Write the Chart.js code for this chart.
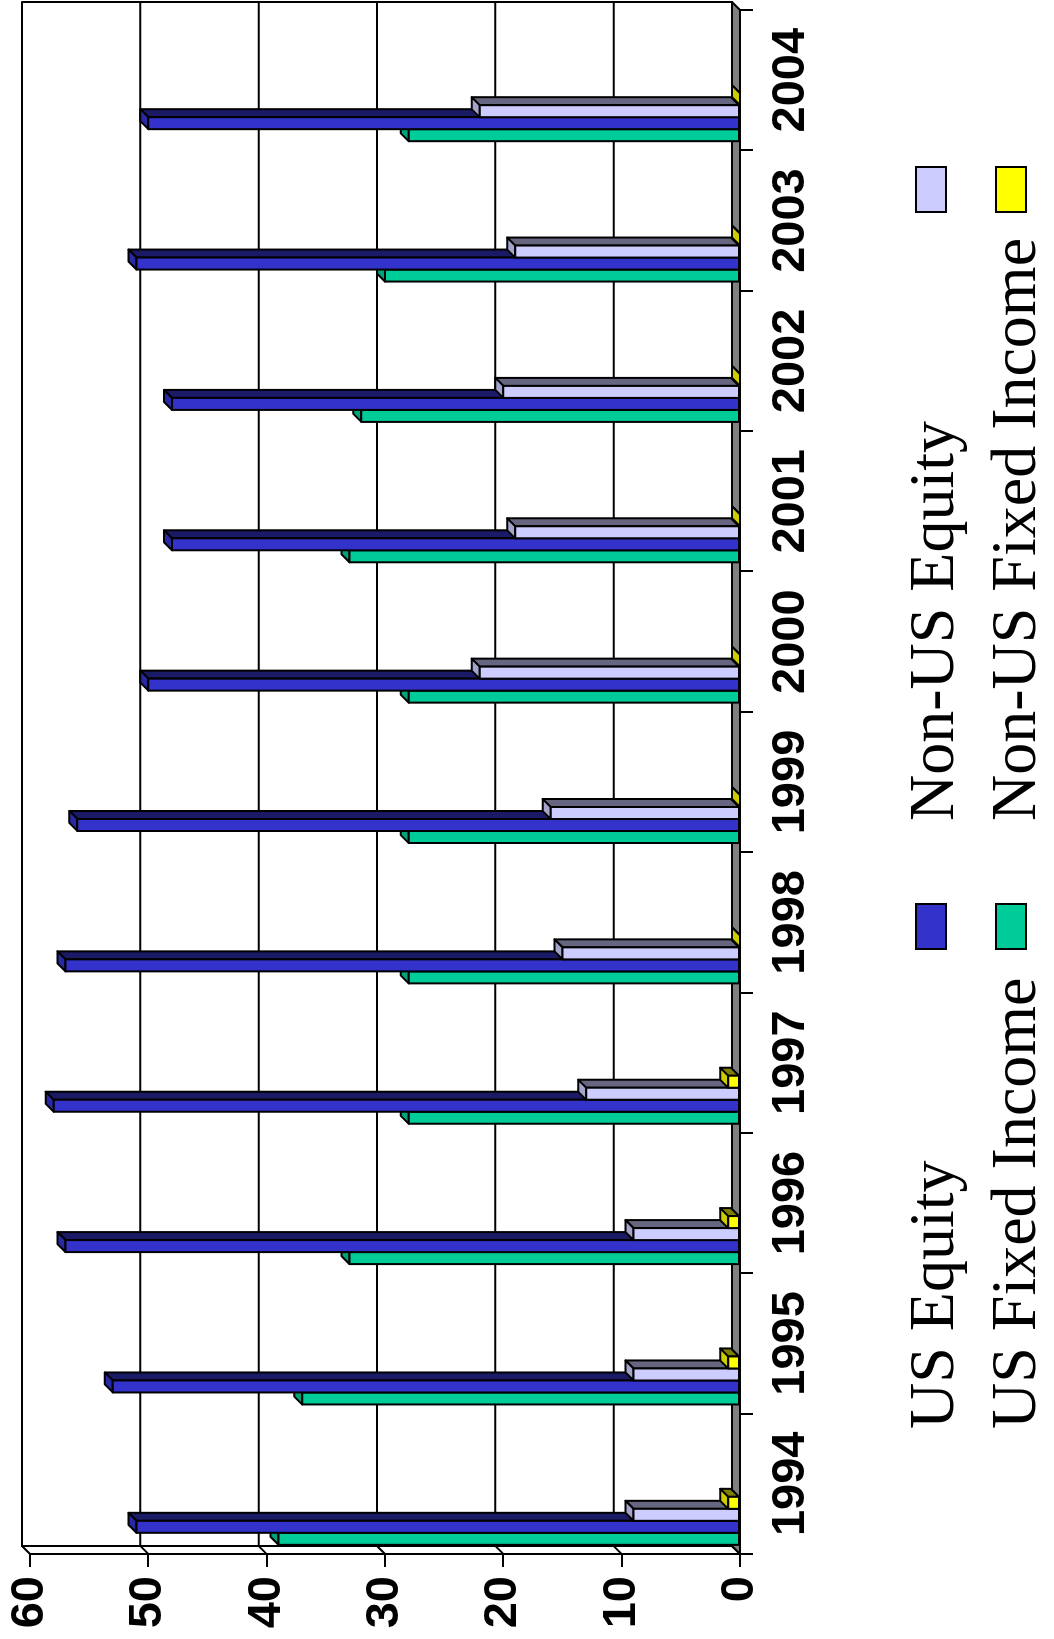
<!DOCTYPE html>
<html>
<head>
<meta charset="utf-8">
<script src="https://cdn.jsdelivr.net/npm/chart.js@4.4.1/dist/chart.umd.min.js"></script>
<style>
  html, body { margin: 0; padding: 0; background: #fff; overflow: hidden; }
  /* el grafico original esta girado 90 grados a la izquierda */
  #wrap { position: absolute; left: 0; top: 0; width: 1639px; height: 1054px;
          transform-origin: 0 0; transform: translateY(1639px) rotate(-90deg); }
</style>
</head>
<body>
<div id="wrap"><canvas id="grafico" width="1639" height="1054"></canvas></div>
<script>
// Datos (porcentaje por año)
const anios = ['1994', '1995', '1996', '1997', '1998', '1999', '2000', '2001', '2002', '2003', '2004']
const usFixedIncome = [39, 37, 33, 28, 28, 28, 28, 33, 32, 30, 28]
const usEquity = [51, 53, 57, 58, 57, 56, 50, 48, 48, 51, 50]
const nonUsEquity = [9, 9, 9, 13, 15, 16, 22, 19, 20, 19, 22]
const nonUsFixedIncome = [1, 1, 1, 1, 0, 0, 0, 0, 0, 0, 0]
const valorMin = 0
const valorMax = 60
const valorPaso = 10

const DX = 8, DY = 8      // profundidad 3D
const SHIFT = -37         // las barras van corridas hacia la izquierda de cada año
const tickFont = { family: "'Liberation Sans', Arial, sans-serif", size: 47, weight: 'bold', lineHeight: 0.8 }

Chart.defaults.color = '#000'

const poly = (c, pts, color) => {
    c.beginPath()
    c.moveTo(pts[0][0], pts[0][1])
    for (let k = 1; k < pts.length; k++) c.lineTo(pts[k][0], pts[k][1])
    c.closePath()
    c.fillStyle = color
    c.fill()
    c.stroke()
}

const efecto3d = {
    id: 'efecto3d',
    beforeDatasetsDraw(chart) {
        const c = chart.ctx
        const a = chart.chartArea
        const ys = chart.scales.y
        c.save()
        c.lineWidth = 2
        c.strokeStyle = '#000'
        c.lineJoin = 'round'
        // pared del fondo
        c.strokeRect(a.left + DX, a.top - DY, a.right - a.left, a.bottom - a.top)
        // grilla y uniones con el eje del frente
        ys.ticks.forEach(t => {
            const y = ys.getPixelForValue(t.value)
            c.beginPath()
            c.moveTo(a.left, y)
            c.lineTo(a.left + DX, y - DY)
            c.lineTo(a.right + DX, y - DY)
            c.stroke()
        })
        // piso gris
        poly(c, [[a.left, a.bottom], [a.left + DX, a.bottom - DY], [a.right + DX, a.bottom - DY], [a.right, a.bottom]], '#808080')
        // barras 3D
        for (let i = 0; i < anios.length; i++) {
            chart.data.datasets.forEach((ds, d) => {
                const bar = chart.getDatasetMeta(d).data[i]
                const x0 = bar.x - bar.width / 2 + SHIFT
                const x1 = x0 + bar.width
                const yt = bar.y, yb = bar.base
                poly(c, [[x1, yt], [x1 + DX, yt - DY], [x1 + DX, yb - DY], [x1, yb]], ds.lado)
                poly(c, [[x0, yt], [x0 + DX, yt - DY], [x1 + DX, yt - DY], [x1, yt]], ds.tapa)
                poly(c, [[x0, yt], [x1, yt], [x1, yb], [x0, yb]], ds.backgroundColor)
            })
        }
        c.restore()
        return false
    },
    afterDraw(chart) {
        // leyenda: texto y luego el cuadro
        const c = chart.ctx
        const orden = [1, 2, 0, 3]
        const colTexto = [210, 818], colCuadro = [690, 1427]
        const filaBase = [953, 1035], filaCuadro = [916, 996]
        c.save()
        c.font = "64px 'Liberation Serif', 'Times New Roman', serif"
        c.textBaseline = 'alphabetic'
        c.textAlign = 'left'
        c.lineWidth = 2
        c.strokeStyle = '#000'
        orden.forEach((d, k) => {
            const ds = chart.data.datasets[d]
            const col = k % 2, fila = Math.floor(k / 2)
            c.fillStyle = '#000'
            c.fillText(ds.label, colTexto[col], filaBase[fila])
            c.fillStyle = ds.backgroundColor
            c.fillRect(colCuadro[col], filaCuadro[fila], 45, 30)
            c.strokeRect(colCuadro[col], filaCuadro[fila], 45, 30)
        })
        c.restore()
    }
}

let ctx = document.getElementById('grafico')
let myChart = new Chart(ctx, {
    type: 'bar',
    data: {
        labels: anios,
        datasets: [
            { label: 'US Fixed Income', data: usFixedIncome, backgroundColor: '#00CC99', lado: '#006650', tapa: '#00A37A' },
            { label: 'US Equity', data: usEquity, backgroundColor: '#3333CC', lado: '#1A1A66', tapa: '#2929A3' },
            { label: 'Non-US Equity', data: nonUsEquity, backgroundColor: '#CCCCFF', lado: '#666680', tapa: '#A3A3CC' },
            { label: 'Non-US Fixed Income', data: nonUsFixedIncome, backgroundColor: '#FFFF00', lado: '#808000', tapa: '#CCCC00' }
        ]
    },
    options: {
        responsive: false,
        animation: false,
        devicePixelRatio: 1,
        categoryPercentage: 0.342,
        barPercentage: 1,
        layout: { padding: { top: 30, right: 10, left: 0, bottom: 0 } },
        plugins: { legend: { display: false }, tooltip: { enabled: false } },
        scales: {
            x: {
                ticks: { font: tickFont, padding: 19, maxRotation: 0, autoSkip: false },
                grid: { offset: true, drawOnChartArea: false, tickLength: 13, color: '#000', lineWidth: 2 },
                border: { display: true, color: '#000', width: 2 },
                afterFit: s => { s.height = 314 }
            },
            y: {
                min: valorMin,
                max: valorMax,
                ticks: { stepSize: valorPaso, font: tickFont, padding: 9 },
                grid: { drawOnChartArea: false, tickLength: 13, color: '#000', lineWidth: 2 },
                border: { display: true, color: '#000', width: 2 },
                afterFit: s => { s.width = 85 }
            }
        }
    },
    plugins: [efecto3d]
})
</script>
</body>
</html>
